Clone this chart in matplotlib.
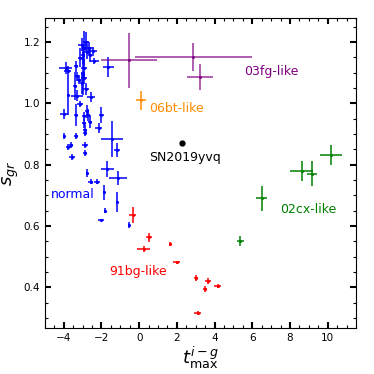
import matplotlib
matplotlib.use("Agg")
import matplotlib.pyplot as plt
import numpy as np
from matplotlib.ticker import MultipleLocator

# normal SNe Ia: x, y, xerr, yerr
normal_x = [-2.92, -3.04, -2.83, -2.67, -2.99, -2.77, -3.15, -2.47, -2.38, -2.6,
            -1.64, -3.89, -3.8, -3.36, -2.92, -3.3, -2.92, -3.18, -3.04, -3.77,
            -3.98, -3.36, -3.3, -3.13, -2.83, -2.56, -2.77, -2.71, -2.92, -2.6,
            -2.92, -2.86, -2.0, -2.15, -1.45, -1.18, -4.01, -3.36, -2.86, -3.62,
            -3.75, -2.86, -2.86, -3.57, -2.77, -1.68, -2.56, -2.24, -1.11, -1.86,
            -1.2, -1.82, -2.03, -0.56, -2.99, -3.4]
normal_y = [1.181, 1.191, 1.201, 1.181, 1.158, 1.168, 1.149, 1.169, 1.137, 1.158,
            1.117, 1.115, 1.106, 1.12, 1.115, 1.088, 1.082, 1.077, 1.066, 1.028,
            0.965, 0.962, 1.025, 0.998, 1.046, 1.02, 0.973, 0.962, 0.957, 0.94,
            0.935, 0.913, 0.962, 0.919, 0.883, 0.848, 0.894, 0.894, 0.903, 0.864,
            0.857, 0.864, 0.837, 0.826, 0.772, 0.785, 0.744, 0.744, 0.755, 0.709,
            0.679, 0.65, 0.619, 0.603, 1.096, 1.057]
normal_xerr = [0.1, 0.2, 0.15, 0.2, 0.1, 0.15, 0.1, 0.22, 0.25, 0.1,
               0.29, 0.35, 0.2, 0.1, 0.15, 0.1, 0.15, 0.1, 0.1, 0.05,
               0.2, 0.1, 0.3, 0.15, 0.15, 0.2, 0.1, 0.1, 0.1, 0.1,
               0.1, 0.1, 0.15, 0.2, 0.58, 0.15, 0.05, 0.1, 0.1, 0.1,
               0.15, 0.15, 0.1, 0.15, 0.05, 0.35, 0.13, 0.18, 0.48, 0.05,
               0.05, 0.05, 0.15, 0.05, 0.1, 0.1]
normal_yerr = [0.055, 0.02, 0.03, 0.02, 0.03, 0.025, 0.03, 0.015, 0.01, 0.025,
               0.033, 0.02, 0.015, 0.017, 0.03, 0.015, 0.02, 0.015, 0.035, 0.065,
               0.017, 0.036, 0.017, 0.01, 0.02, 0.015, 0.02, 0.02, 0.015, 0.02,
               0.015, 0.015, 0.027, 0.015, 0.06, 0.023, 0.01, 0.01, 0.01, 0.01,
               0.01, 0.01, 0.01, 0.01, 0.013, 0.027, 0.008, 0.008, 0.023, 0.023,
               0.033, 0.007, 0.003, 0.01, 0.07, 0.045]

# 91bg-like
bg_x = [-0.35, 0.53, 0.23, 1.65, 1.98, 3.01, 3.63, 3.5, 4.16, 3.1]
bg_y = [0.636, 0.563, 0.525, 0.54, 0.481, 0.429, 0.421, 0.393, 0.403, 0.316]
bg_xerr = [0.18, 0.16, 0.35, 0.08, 0.19, 0.12, 0.16, 0.1, 0.2, 0.2]
bg_yerr = [0.027, 0.015, 0.01, 0.007, 0.005, 0.01, 0.01, 0.01, 0.007, 0.005]

# 02cx-like
cx_x = [10.17, 8.61, 9.16, 6.51, 5.36]
cx_y = [0.832, 0.78, 0.77, 0.69, 0.552]
cx_xerr = [0.59, 0.6, 0.27, 0.29, 0.18]
cx_yerr = [0.032, 0.033, 0.04, 0.04, 0.016]

# 03fg-like
fg_x = [-0.53, 2.86, 3.24]
fg_y = [1.14, 1.15, 1.086]
fg_xerr = [1.5, 3.1, 0.68]
fg_yerr = [0.09, 0.045, 0.043]

# 06bt-like
bt_x = [0.09]
bt_y = [1.009]
bt_xerr = [0.28]
bt_yerr = [0.031]

# SN2019yvq
yvq_x = [2.27]
yvq_y = [0.871]

fig = plt.figure(figsize=(3.74, 3.74), dpi=100)
ax = fig.add_axes([0.120, 0.123, 0.832, 0.829])

kw = dict(fmt=".", ms=2.5, elinewidth=1.1, capsize=0)
ax.errorbar(normal_x, normal_y, xerr=normal_xerr, yerr=normal_yerr, color="blue", **kw)
ax.errorbar(bg_x, bg_y, xerr=bg_xerr, yerr=bg_yerr, color="red", **kw)
ax.errorbar(cx_x, cx_y, xerr=cx_xerr, yerr=cx_yerr, color="green", **kw)
ax.errorbar(fg_x, fg_y, xerr=fg_xerr, yerr=fg_yerr, color="purple", alpha=0.8, **kw)
ax.errorbar(bt_x, bt_y, xerr=bt_xerr, yerr=bt_yerr, color="darkorange", **kw)
ax.plot(yvq_x, yvq_y, "o", color="black", ms=3.5)

ax.text(5.54, 1.104, "03fg-like", color="purple", fontsize=9, va="center")
ax.text(0.53, 0.984, "06bt-like", color="darkorange", fontsize=9, va="center")
ax.text(0.51, 0.822, "SN2019yvq", color="black", fontsize=9, va="center")
ax.text(7.48, 0.652, "02cx-like", color="green", fontsize=9, va="center")
ax.text(-1.6, 0.45, "91bg-like", color="red", fontsize=9, va="center")
ax.text(-4.68, 0.701, "normal", color="blue", fontsize=9, va="center")

ax.set_xlim(-5, 11.5)
ax.set_ylim(0.267, 1.278)
ax.xaxis.set_major_locator(MultipleLocator(2))
ax.xaxis.set_minor_locator(MultipleLocator(0.5))
ax.yaxis.set_major_locator(MultipleLocator(0.2))
ax.yaxis.set_minor_locator(MultipleLocator(0.05))
ax.tick_params(which="both", direction="in", top=True, right=True, labelsize=7.5)
ax.tick_params(which="major", length=4, width=1.5)
ax.tick_params(which="minor", length=2, width=0.8)

ax.set_xlabel(r"$t^{i-g}_{\rm max}$", fontsize=13, labelpad=1)
ax.set_ylabel(r"$s_{gr}$", fontsize=13, labelpad=2)

fig.savefig("out.png", dpi=100)
